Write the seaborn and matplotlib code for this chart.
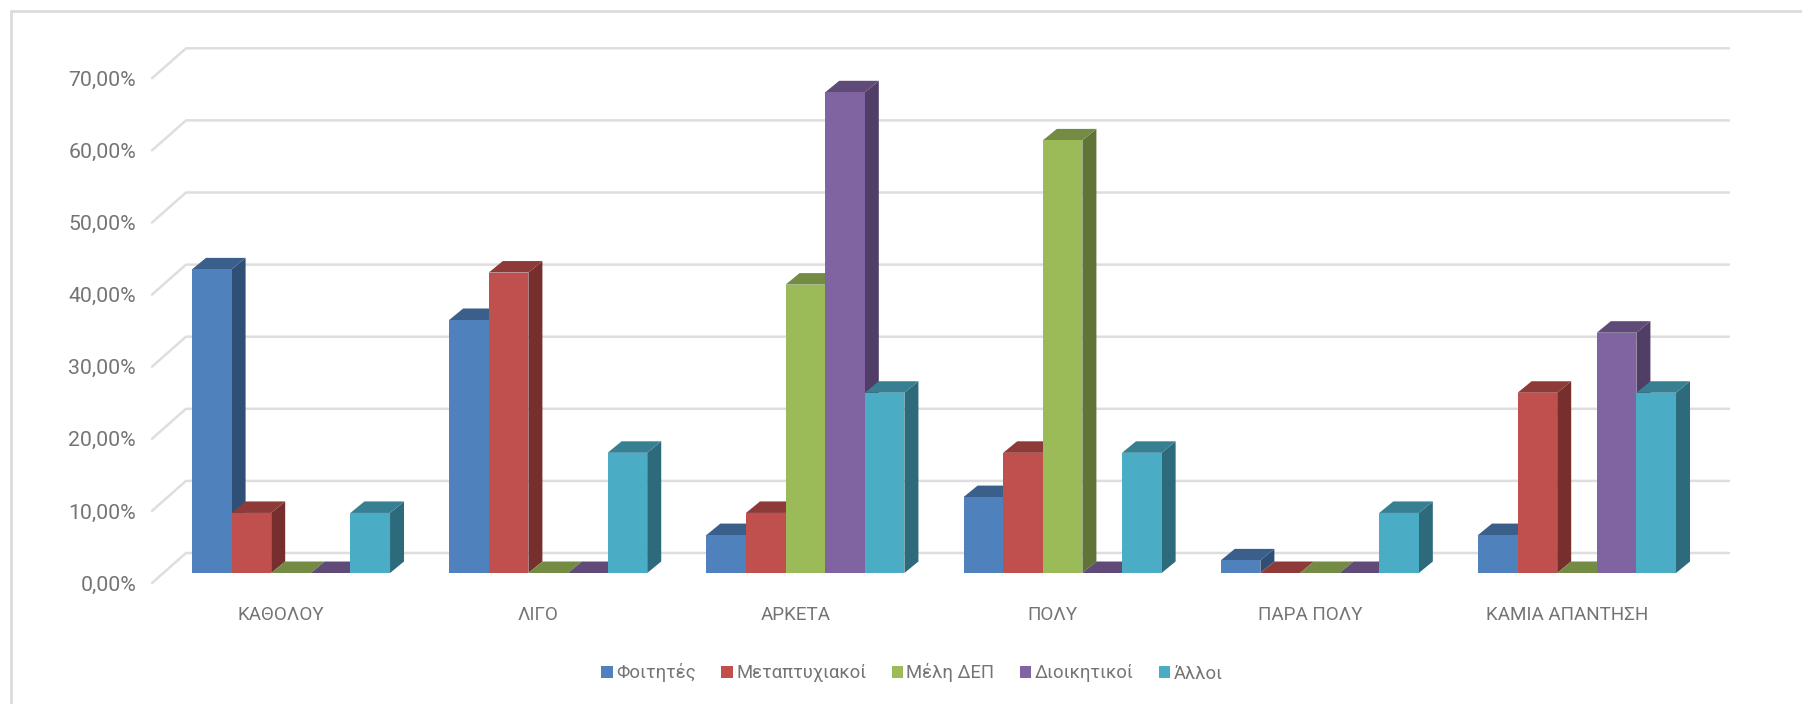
import matplotlib
matplotlib.use("Agg")
import matplotlib.pyplot as plt
from matplotlib.patches import Polygon, Rectangle
from matplotlib.transforms import ScaledTranslation
import pandas as pd
import seaborn as sns

categories = ["ΚΑΘΟΛΟΥ", "ΛΙΓΟ", "ΑΡΚΕΤΑ", "ΠΟΛΥ", "ΠΑΡΑ ΠΟΛΥ", "ΚΑΜΙΑ ΑΠΑΝΤΗΣΗ"]
students = [42.11, 35.09, 5.26, 10.53, 1.75, 5.26]
postgrads = [8.33, 41.67, 8.33, 16.67, 0.0, 25.0]
faculty = [0.0, 0.0, 40.0, 60.0, 0.0, 0.0]
admin = [0.0, 0.0, 66.67, 0.0, 0.0, 33.33]
others = [8.33, 16.67, 25.0, 16.67, 8.33, 25.0]
series_names = ["Φοιτητές", "Μεταπτυχιακοί", "Μέλη ΔΕΠ", "Διοικητικοί", "Άλλοι"]
front_colors = ["#4F81BD", "#C0504D", "#9BBB59", "#8064A2", "#4BACC6"]
top_colors = ["#3A5F8B", "#8E3A38", "#738B42", "#5F4A78", "#378093"]
side_colors = ["#2F4F76", "#772F2E", "#5F7436", "#503E66", "#2D6B7C"]
yticks = [0, 10, 20, 30, 40, 50, 60, 70]

W, H = 1802, 704
PX_PER_PCT = 7.21
PX_PER_CAT = 257.2

sns.set_theme(style="white")
plt.rcParams["font.family"] = ["Roboto", "DejaVu Sans"]

fig = plt.figure(figsize=(W / 100, H / 100), dpi=100, facecolor="white")
ax_left, ax_right, ax_base, ax_top = 162.4, 1705.6, 573.0, 573.0 - 70 * PX_PER_PCT
ax = fig.add_axes([ax_left / W, 1 - ax_base / H, (ax_right - ax_left) / W, (ax_base - ax_top) / H])

frame = dict(color="#DCDCDC", lw=2.0, transform=fig.transFigure, clip_on=False)
fig.add_artist(plt.Line2D([10.5 / W, 10.5 / W], [0, 1 - 11 / H], **frame))
fig.add_artist(plt.Line2D([10.5 / W, 1], [1 - 11 / H, 1 - 11 / H], **frame))

table = pd.DataFrame(
    {"category": categories * 5,
     "series": [s for s in series_names for _ in categories],
     "value": students + postgrads + faculty + admin + others}
)
sns.barplot(data=table, x="category", y="value", hue="series", order=categories,
            hue_order=series_names, palette=front_colors, width=0.77, gap=0,
            saturation=1, legend=False, ax=ax, zorder=5)

ax.set_xlim(-0.5, 5.5)
ax.set_ylim(0, 70)

# Depth of the bars and of the wall, expressed in data units
bar_dx, bar_dy = 14 / PX_PER_CAT, 11.5 / PX_PER_PCT
wall_x0 = (152 - ax_left) / PX_PER_CAT - 0.5
wall_x1 = (186 - ax_left) / PX_PER_CAT - 0.5
wall_x2 = (1729 - ax_left) / PX_PER_CAT - 0.5
wall_low, wall_high = -10 / PX_PER_PCT, 20 / PX_PER_PCT

grid_style = dict(color="#DEDEDE", lw=1.8, clip_on=False, zorder=1, solid_capstyle="round")
for v in yticks:
    ax.plot([wall_x0, wall_x1, wall_x2], [v + wall_low, v + wall_high, v + wall_high], **grid_style)

# Extrude each bar, painting from left to right so nearer faces cover earlier ones
bars = sorted(ax.patches, key=lambda p: p.get_x())
for order, bar in enumerate(bars):
    x0, x1, h = bar.get_x(), bar.get_x() + bar.get_width(), bar.get_height()
    series_index = front_colors.index(matplotlib.colors.to_hex(bar.get_facecolor()).upper())
    base = 10 + order * 3
    ax.add_patch(Polygon([(x1, 0), (x1 + bar_dx, bar_dy), (x1 + bar_dx, h + bar_dy), (x1, h)],
                         closed=True, fc=side_colors[series_index], ec="none", clip_on=False, zorder=base))
    ax.add_patch(Polygon([(x0, h), (x0 + bar_dx, h + bar_dy), (x1 + bar_dx, h + bar_dy), (x1, h)],
                         closed=True, fc=top_colors[series_index], ec="none", clip_on=False, zorder=base + 1))
    bar.set_zorder(base + 2)
    bar.set_clip_on(False)
    bar.set_edgecolor("none")

for side in ax.spines.values():
    side.set_visible(False)
ax.patch.set_alpha(0)
ax.set_xlabel("")
ax.set_ylabel("")
ax.set_yticks(yticks)
ax.set_yticklabels([f"{v:.2f}".replace(".", ",") + "%" for v in yticks])
ax.tick_params(axis="both", length=0, labelcolor="#747474")
ax.tick_params(axis="y", pad=19, labelsize=15.3)
ax.tick_params(axis="x", pad=24, labelsize=13.6)

shift_y = ScaledTranslation(0, -10 / 100, fig.dpi_scale_trans)
shift_x = ScaledTranslation(-10 / 100, 0, fig.dpi_scale_trans)
for label in ax.get_yticklabels():
    label.set_transform(label.get_transform() + shift_y)
for label in ax.get_xticklabels():
    label.set_transform(label.get_transform() + shift_x)

handles = [Rectangle((0, 0), 1, 1, fc=c, ec="none") for c in front_colors]
fig.legend(handles, series_names, loc="center", bbox_to_anchor=(912 / W, 1 - 673 / H), ncol=5,
           frameon=False, fontsize=13.3, labelcolor="#747474", handlelength=0.62, handleheight=0.62,
           handletextpad=0.18, columnspacing=1.37)

fig.savefig("out.png", dpi=100)
